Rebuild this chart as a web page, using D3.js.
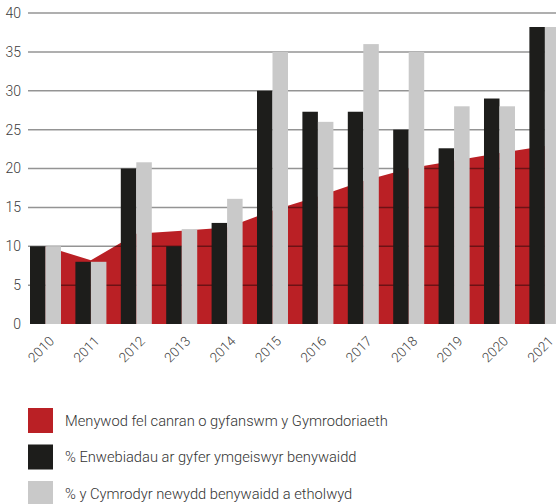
<!DOCTYPE html>
<html>
<head>
<meta charset="utf-8">
<script src="https://cdn.jsdelivr.net/npm/d3@7"></script>
<style>
  body { margin: 0; background: #fff; }
  svg { display: block; font-family: Roboto, "Liberation Sans", sans-serif; font-weight: 300; }
</style>
</head>
<body>
<div id="chart"></div>
<script>
// Data
const years = ["2010","2011","2012","2013","2014","2015","2016","2017","2018","2019","2020","2021"];
const fellowshipShare = [10.0, 8.2, 11.6, 12.0, 12.4, 14.6, 16.4, 18.4, 20.0, 21.0, 22.0, 22.9];
const nominations = [10, 8, 20, 10, 13, 30, 27.3, 27.3, 25, 22.6, 29, 38.2];
const newFellows = [10, 8, 20.8, 12.2, 16.1, 35, 26, 36, 35, 28, 28, 38.2];
const yTicks = [0, 5, 10, 15, 20, 25, 30, 35, 40];
const legendLabels = [
  "Menywod fel canran o gyfanswm y Gymrodoriaeth",
  "% Enwebiadau ar gyfer ymgeiswyr benywaidd",
  "% y Cymrodyr newydd benywaidd a etholwyd"
];

const colours = ["#ba2025", "#1d1d1b", "#c9c9c9"];

const width = 556;
const height = 504;

const svg = d3.select("#chart")
  .append("svg")
    .attr("width", width)
    .attr("height", height)
    .attr("viewBox", `0 0 ${width} ${height}`);

/* scales */
const xScale = d3.scaleBand()
  .domain(years)
  .range([30, 560.4])
  .paddingInner(0.317)
  .paddingOuter(0);

const subScale = d3.scaleBand()
  .domain(["nom", "new"])
  .range([0, xScale.bandwidth()]);

const yScale = d3.scaleLinear()
  .domain([0, 40])
  .range([324, 13]);

const centre = y => xScale(y) + xScale.bandwidth() / 2;

/* red area behind the bars */
const area = d3.area()
  .x((d, i) => centre(years[i]))
  .y0(yScale(0))
  .y1(d => yScale(d));

svg.append("path")
  .datum(fellowshipShare)
    .attr("d", area)
    .attr("fill", colours[0]);

/* gridlines */
svg.append("g")
  .selectAll("line")
  .data(yTicks.filter(d => d > 0))
  .join("line")
    .attr("x1", 28)
    .attr("x2", width)
    .attr("y1", d => yScale(d))
    .attr("y2", d => yScale(d))
    .attr("stroke", "#000")
    .attr("stroke-opacity", 0.42)
    .attr("stroke-width", 1.5);

/* y labels */
svg.append("g")
  .selectAll("text")
  .data(yTicks)
  .join("text")
    .attr("x", 21)
    .attr("y", d => yScale(d))
    .attr("dy", "0.35em")
    .attr("text-anchor", "end")
    .attr("font-size", 14)
    .attr("fill", "#3c3c3c")
    .text(d => d);

/* bars */
const barGroups = svg.append("g")
  .selectAll("g")
  .data(years)
  .join("g")
    .attr("transform", d => `translate(${xScale(d)},0)`);

barGroups.append("rect")
  .attr("x", subScale("nom"))
  .attr("width", subScale.bandwidth())
  .attr("y", (d, i) => yScale(nominations[i]))
  .attr("height", (d, i) => yScale(0) - yScale(nominations[i]))
  .attr("fill", colours[1]);

barGroups.append("rect")
  .attr("x", subScale("new"))
  .attr("width", subScale.bandwidth())
  .attr("y", (d, i) => yScale(newFellows[i]))
  .attr("height", (d, i) => yScale(0) - yScale(newFellows[i]))
  .attr("fill", colours[2]);

/* x labels, rotated */
svg.append("g")
  .selectAll("text")
  .data(years)
  .join("text")
    .attr("transform", d => `translate(${centre(d) + 9.5},342) rotate(-45)`)
    .attr("text-anchor", "end")
    .attr("font-size", 13.5)
    .attr("fill", "#3c3c3c")
    .text(d => d);

/* legend */
const legend = svg.append("g")
  .selectAll("g")
  .data(legendLabels)
  .join("g")
    .attr("transform", (d, i) => `translate(28,${408 + i * 36.5})`);

legend.append("rect")
  .attr("width", 25)
  .attr("height", 25)
  .attr("fill", (d, i) => colours[i]);

legend.append("text")
  .attr("x", 37)
  .attr("y", 12.5)
  .attr("dy", "0.35em")
  .attr("font-size", 14.7)
  .attr("fill", "#333")
  .text(d => d);
</script>
</body>
</html>
